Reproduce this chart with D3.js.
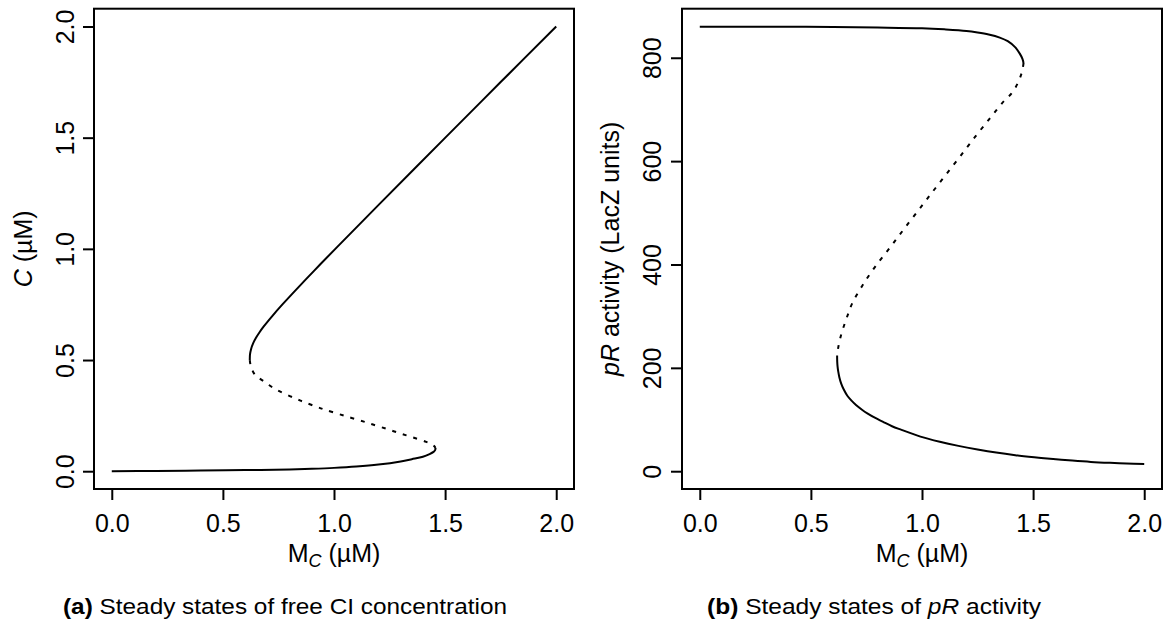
<!DOCTYPE html>
<html>
<head>
<meta charset="utf-8">
<script src="https://cdn.jsdelivr.net/npm/d3@7"></script>
<style>
  html, body { margin: 0; padding: 0; background: #fff; }
  svg { display: block; }
  text { font-family: "Liberation Sans", Arial, Helvetica, sans-serif; fill: #000; }
</style>
</head>
<body>
<svg id="chart" width="1175" height="623"></svg>
<script>
// ---------- data ----------
// Panel (a): free CI concentration C (µM) vs total M_C (µM)
const aUpperM = [0.621, 0.6212, 0.622, 0.627, 0.636, 0.649, 0.665, 0.683, 0.724, 0.768, 0.814, 0.909, 1.006, 1.203, 1.501, 1.750, 2.000];
const aUpperC = [0.500, 0.510, 0.525, 0.550, 0.575, 0.600, 0.625, 0.650, 0.700, 0.750, 0.800, 0.900, 1.000, 1.200, 1.500, 1.750, 2.000];
const aMidM = [0.621, 0.624, 0.629, 0.640, 0.659, 0.696, 0.734, 0.779, 0.831, 0.868, 0.921, 0.958, 1.044, 1.138, 1.175, 1.235, 1.295, 1.355, 1.415, 1.445, 1.457];
const aMidC = [0.500, 0.480, 0.465, 0.440, 0.422, 0.396, 0.370, 0.348, 0.325, 0.310, 0.290, 0.277, 0.250, 0.222, 0.210, 0.191, 0.171, 0.152, 0.132, 0.118, 0.105];
const aLowerM = [1.457, 1.455, 1.448, 1.430, 1.400, 1.350, 1.300, 1.200, 1.100, 1.000, 0.900, 0.800, 0.600, 0.400, 0.200, 0.000];
const aLowerC = [0.105, 0.095, 0.087, 0.077, 0.065, 0.054, 0.044, 0.030, 0.021, 0.015, 0.011, 0.008, 0.005, 0.003, 0.001, 0.000];

// Panel (b): pR activity (LacZ units) vs M_C (µM)
const bUpperM = [0.000, 0.200, 0.400, 0.600, 0.800, 1.000, 1.100, 1.200, 1.250, 1.300, 1.350, 1.386, 1.420, 1.440, 1.452, 1.457];
const bUpperP = [860, 860, 860, 859.5, 858.5, 857, 855, 852, 849, 845, 839, 832, 820, 808, 798, 790];
const bMidM = [1.457, 1.452, 1.445, 1.430, 1.403, 1.370, 1.334, 1.300, 1.250, 1.198, 1.130, 1.061, 1.000, 0.925, 0.860, 0.788, 0.730, 0.686, 0.669, 0.650, 0.635, 0.625, 0.618];
const bMidP = [790, 776, 766, 750, 731, 717, 698, 680, 653, 624, 586, 548, 514, 472, 435, 395, 358, 325, 306, 283, 262, 244, 224];
const bLowerM = [0.618, 0.6185, 0.620, 0.623, 0.628, 0.636, 0.648, 0.664, 0.684, 0.703, 0.730, 0.754, 0.790, 0.823, 0.865, 0.908, 0.993, 1.080, 1.164, 1.250, 1.334, 1.420, 1.505, 1.590, 1.676, 1.760, 1.846, 1.920, 2.000];
const bLowerP = [224, 212, 203, 193, 182, 170, 158, 146, 136, 128, 119, 112, 103, 96, 87, 80, 67, 57, 49, 42, 36, 31, 27, 23.5, 20.5, 18, 16.2, 15, 14];

// axis ticks
const xTicks = [0, 0.5, 1.0, 1.5, 2.0];
const xTickLabels = ["0.0", "0.5", "1.0", "1.5", "2.0"];
const aYTicks = [0, 0.5, 1.0, 1.5, 2.0];
const aYTickLabels = ["0.0", "0.5", "1.0", "1.5", "2.0"];
const bYTicks = [0, 200, 400, 600, 800];
const bYTickLabels = ["0", "200", "400", "600", "800"];

// data limits (R style: 4% padding)
const xLim = [0, 2];
const aYLim = [0, 2];
const bYLim = [0, 860.5];

// ---------- drawing ----------
const svg = d3.select("#chart");
const pad = lim => { const d = (lim[1] - lim[0]) * 0.04; return [lim[0] - d, lim[1] + d]; };

function zip(xs, ys) { return xs.map((x, i) => [x, ys[i]]); }

function panel(opts) {
  const g = svg.append("g");
  const x = d3.scaleLinear().domain(pad(xLim)).range([opts.left, opts.right]);
  const y = d3.scaleLinear().domain(pad(opts.yLim)).range([opts.bottom, opts.top]);

  // box
  g.append("rect")
    .attr("x", opts.left).attr("y", opts.top)
    .attr("width", opts.right - opts.left).attr("height", opts.bottom - opts.top)
    .attr("fill", "none").attr("stroke", "#000").attr("stroke-width", 2);

  // x axis
  const xAxis = d3.axisBottom(x).tickValues(xTicks)
    .tickFormat((d, i) => xTickLabels[i]).tickSize(11).tickPadding(6);
  const gx = g.append("g").attr("transform", `translate(0,${opts.bottom})`).call(xAxis);
  gx.select(".domain").attr("d", `M${x(xTicks[0])},0H${x(xTicks[xTicks.length - 1])}`)
    .attr("stroke-width", 2);
  gx.selectAll(".tick line").attr("stroke-width", 2);
  gx.selectAll(".tick text").attr("font-size", 25).attr("dy", null).attr("y", 43)
    .style("font-family", '"Liberation Sans", Arial, sans-serif');

  // y axis
  const yAxis = d3.axisLeft(y).tickValues(opts.yTicks)
    .tickFormat((d, i) => opts.yTickLabels[i]).tickSize(11).tickPadding(6);
  const gy = g.append("g").attr("transform", `translate(${opts.left},0)`).call(yAxis);
  gy.select(".domain").attr("d", `M0,${y(opts.yTicks[0])}V${y(opts.yTicks[opts.yTicks.length - 1])}`)
    .attr("stroke-width", 2);
  gy.selectAll(".tick line").attr("stroke-width", 2);
  gy.selectAll(".tick text")
    .attr("font-size", 25)
    .attr("x", null).attr("dy", null)
    .attr("text-anchor", "middle")
    .attr("transform", `translate(${opts.yTickX - opts.left},0) rotate(-90)`)
    .style("font-family", '"Liberation Sans", Arial, sans-serif');

  // curves
  const line = d3.line().x(d => x(d[0])).y(d => y(d[1])).curve(d3.curveCatmullRom.alpha(0.5));
  opts.branches.forEach(b => {
    g.append("path").attr("d", line(b.pts))
      .attr("fill", "none").attr("stroke", "#000").attr("stroke-width", 2)
      .attr("stroke-dasharray", b.dashed ? "4,7" : null);
  });

  // x label: M_C (µM)
  const xl = g.append("text")
    .attr("x", (opts.left + opts.right) / 2).attr("y", 562)
    .attr("text-anchor", "middle").attr("font-size", 25);
  xl.append("tspan").text("M");
  xl.append("tspan").attr("font-style", "italic").attr("font-size", 18).attr("dy", 5).text("C");
  xl.append("tspan").attr("dy", -5).text(" (\u00B5M)");

  // y label
  const yl = g.append("text")
    .attr("transform", `translate(${opts.yLabelX},${(opts.top + opts.bottom) / 2}) rotate(-90)`)
    .attr("text-anchor", "middle").attr("font-size", 25);
  opts.yLabel.forEach(p => {
    const t = yl.append("tspan").text(p.t);
    if (p.it) t.attr("font-style", "italic");
  });

  // caption
  const cap = g.append("text")
    .attr("x", opts.capX).attr("y", 614)
    .attr("font-size", 22)
    .attr("textLength", opts.capLen).attr("lengthAdjust", "spacingAndGlyphs");
  opts.caption.forEach(p => {
    const t = cap.append("tspan").text(p.t);
    if (p.b) t.attr("font-weight", "bold");
    if (p.it) t.attr("font-style", "italic");
  });
}

panel({
  left: 94, right: 574, top: 8.7, bottom: 489,
  yLim: aYLim, yTicks: aYTicks, yTickLabels: aYTickLabels,
  yTickX: 74, yLabelX: 32,
  yLabel: [{ t: "C", it: true }, { t: " (\u00B5M)" }],
  branches: [
    { pts: zip(aUpperM, aUpperC), dashed: false },
    { pts: zip(aMidM, aMidC), dashed: true },
    { pts: zip(aLowerM, aLowerC), dashed: false }
  ],
  capX: 63, capLen: 444,
  caption: [{ t: "(a)", b: true }, { t: " Steady states of free CI concentration" }]
});

panel({
  left: 682, right: 1162, top: 8.7, bottom: 489,
  yLim: bYLim, yTicks: bYTicks, yTickLabels: bYTickLabels,
  yTickX: 661, yLabelX: 619,
  yLabel: [{ t: "pR", it: true }, { t: " activity (LacZ units)" }],
  branches: [
    { pts: zip(bUpperM, bUpperP), dashed: false },
    { pts: zip(bMidM, bMidP), dashed: true },
    { pts: zip(bLowerM, bLowerP), dashed: false }
  ],
  capX: 707, capLen: 334,
  caption: [{ t: "(b)", b: true }, { t: " Steady states of " }, { t: "pR", it: true }, { t: " activity" }]
});
</script>
</body>
</html>
